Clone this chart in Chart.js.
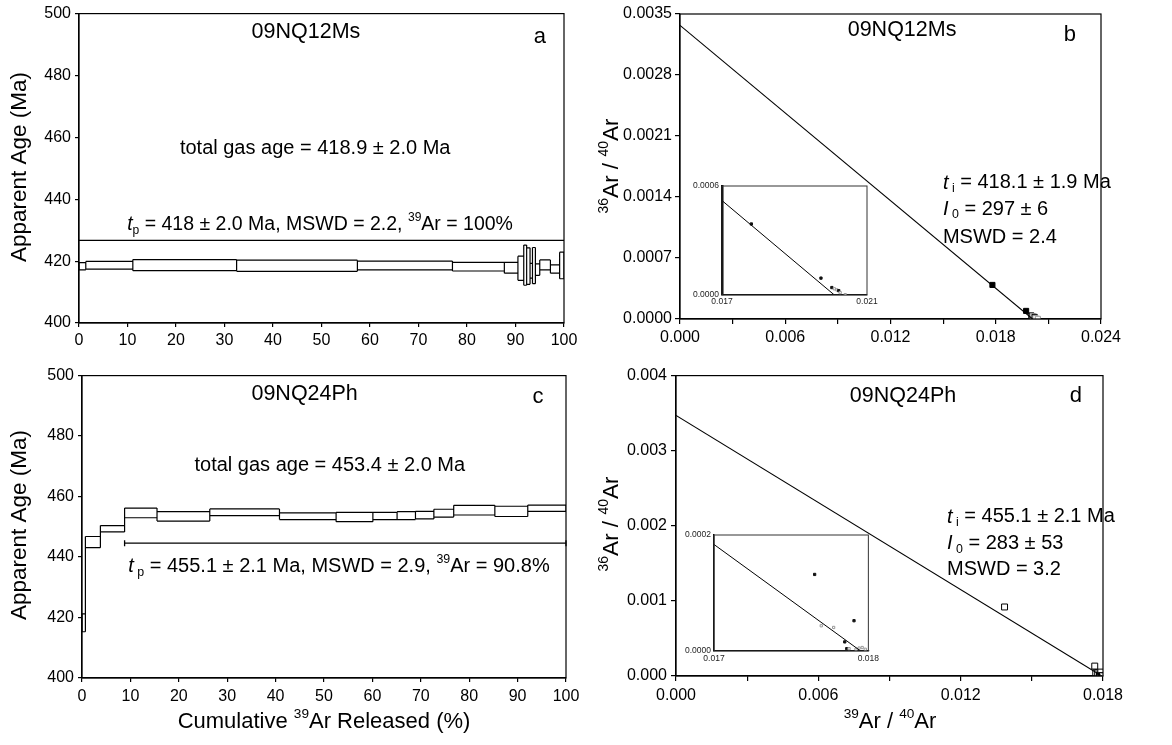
<!DOCTYPE html>
<html>
<head>
<meta charset="utf-8">
<title>09NQ12Ms / 09NQ24Ph Ar-Ar</title>
<script src="https://cdn.jsdelivr.net/npm/chart.js@4.4.1/dist/chart.umd.min.js"></script>
<style>
  html, body { margin: 0; padding: 0; background: #fff; }
  #wrap { position: relative; width: 1172px; height: 745px; overflow: hidden; }
  #wrap canvas { position: absolute; }
</style>
</head>
<body>
<div id="wrap">
  <canvas id="chartA" width="586" height="362" style="left:0;top:0"></canvas>
  <canvas id="chartB" width="586" height="362" style="left:586px;top:0"></canvas>
  <canvas id="chartC" width="586" height="383" style="left:0;top:362px"></canvas>
  <canvas id="chartD" width="586" height="383" style="left:586px;top:362px"></canvas>
  <canvas id="insetB" width="196" height="136" style="left:686px;top:176px"></canvas>
  <canvas id="insetD" width="204" height="145" style="left:678px;top:525px"></canvas>
</div>
<script>
// ---- data ----

// a: 09NQ12Ms age spectrum (cumulative 39Ar %, step age bounds in Ma)
var cumA = [0, 1.4, 11.1, 32.5, 57.4, 77.0, 87.7, 90.5, 91.7, 92.3, 93.0, 93.5, 94.1, 95.0, 97.2, 99.1, 100];
var ageHiA = [419.5, 419.9, 420.5, 420.3, 420.0, 419.6, 419.6, 421.6, 425.2, 424.3, 419.3, 424.4, 419.1, 420.4, 418.8, 422.9];
var ageLoA = [417.2, 417.4, 416.9, 416.7, 417.2, 416.8, 416.1, 413.8, 412.2, 412.5, 414.5, 412.7, 415.4, 417.2, 416.1, 414.3];
var plateauXA = [0, 100];
var plateauAgeA = 426.7;

// c: 09NQ24Ph age spectrum
var cumC = [0, 0.7, 3.8, 8.8, 15.5, 26.4, 40.8, 52.5, 60.1, 65.1, 68.9, 72.7, 76.8, 85.3, 92.1, 100];
var ageHiC = [421.2, 446.8, 450.4, 456.2, 455.0, 455.9, 454.6, 454.8, 454.8, 455.0, 455.1, 455.8, 457.1, 456.8, 457.2];
var ageLoC = [415.3, 443.1, 448.3, 453.0, 451.9, 453.7, 452.4, 451.7, 452.4, 452.4, 452.6, 453.2, 453.9, 453.4, 455.1];
var plateauXC = [8.8, 100];
var plateauAgeC = 444.6;

// b: 09NQ12Ms inverse isochron (39Ar/40Ar, 36Ar/40Ar)
var isoXB = [0.01781, 0.01973, 0.02003, 0.02010, 0.02017, 0.02022, 0.02026, 0.02040];
var isoYB = [0.000391, 0.000093, 0.000041, 0.000034, 0.000028, 0.000024, 0.000013, 0.000002];
var lineXB = [0, 0.0201];
var lineYB = [0.00337, 0];

// d: 09NQ24Ph inverse isochron
var isoXD = [0.01385, 0.017652, 0.017695, 0.017775, 0.017847, 0.01786, 0.017875, 0.017907, 0.01792, 0.01794, 0.01796, 0.01798];
var isoYD = [0.000919, 0.000132, 0.0000435, 0.0000406, 0.0000157, 0.000004, 0.000004, 0.0000522, 0.000003, 0.000005, 0.000006, 0.000003];
var lineXD = [0, 0.01795];
var lineYD = [0.00347, 0];

// tick values and labels
var pctTicks = [0, 10, 20, 30, 40, 50, 60, 70, 80, 90, 100];
var pctLabels = ["0", "10", "20", "30", "40", "50", "60", "70", "80", "90", "100"];
var ageTicks = [400, 420, 440, 460, 480, 500];
var ageLabels = ["400", "420", "440", "460", "480", "500"];
var xTicksB = [0, 0.003, 0.006, 0.009, 0.012, 0.015, 0.018, 0.021, 0.024];
var xLabelsB = ["0.000", "", "0.006", "", "0.012", "", "0.018", "", "0.024"];
var yTicksB = [0, 0.0007, 0.0014, 0.0021, 0.0028, 0.0035];
var yLabelsB = ["0.0000", "0.0007", "0.0014", "0.0021", "0.0028", "0.0035"];
var xTicksD = [0, 0.003, 0.006, 0.009, 0.012, 0.015, 0.018];
var xLabelsD = ["0.000", "", "0.006", "", "0.012", "", "0.018"];
var yTicksD = [0, 0.001, 0.002, 0.003, 0.004];
var yLabelsD = ["0.000", "0.001", "0.002", "0.003", "0.004"];
var insetXB = [0.017, 0.021], insetXLabelsB = ["0.017", "0.021"];
var insetYB = [0, 0.0006], insetYLabelsB = ["0.0000", "0.0006"];
var insetXD = [0.017, 0.018], insetXLabelsD = ["0.017", "0.018"];
var insetYD = [0, 0.0002], insetYLabelsD = ["0.0000", "0.0002"];

// marker styles (1 = solid square)
var solidB = [1, 1, 1, 0, 0, 1, 0, 0];
var solidD = [0, 0, 0, 0, 0, 1, 0, 0, 0, 0, 0, 0];
var solidInsetD = [1, 1, 0, 0, 1, 1, 0, 1, 0, 0, 0, 0];

// ---- drawing helpers ----
var FONT = "'Liberation Sans', Arial, Helvetica, sans-serif";
Chart.defaults.font.family = FONT;
Chart.defaults.color = "#000";

function richFont(style, size) {
  var s = (style === "sup" || style === "sub") ? size * 0.62 : size;
  return (style === "i" ? "italic " : "") + s + "px " + FONT;
}

// parts: [[text, style]] where style is "", "i", "sup" or "sub"
function drawRich(ctx, parts, x, y, size, align, rot) {
  var w = 0;
  parts.forEach(function (p) {
    ctx.font = richFont(p[1], size);
    w += ctx.measureText(p[0]).width;
  });
  ctx.save();
  ctx.translate(x, y);
  if (rot) ctx.rotate(rot);
  ctx.textAlign = "left";
  ctx.textBaseline = "middle";
  ctx.fillStyle = "#000";
  var cx = align === "left" ? 0 : -w / 2;
  parts.forEach(function (p) {
    ctx.font = richFont(p[1], size);
    var dy = p[1] === "sup" ? -size * 0.36 : (p[1] === "sub" ? size * 0.3 : 0);
    ctx.fillText(p[0], cx, dy);
    cx += ctx.measureText(p[0]).width;
  });
  ctx.restore();
}

Chart.register({
  id: "annot",
  beforeDraw: function (chart, args, o) {
    if (!o.whiteBg) return;
    var ca = chart.chartArea, ctx = chart.ctx;
    ctx.save();
    ctx.fillStyle = "#fff";
    ctx.fillRect(ca.left, ca.top, ca.right - ca.left, ca.bottom - ca.top);
    ctx.restore();
  },
  afterDraw: function (chart, args, o) {
    var ctx = chart.ctx, ca = chart.chartArea;
    ctx.save();
    ctx.strokeStyle = o.frameColor || "#000";
    ctx.lineWidth = o.frameWidth || 1.2;
    ctx.strokeRect(ca.left, ca.top, ca.right - ca.left, ca.bottom - ca.top);
    (o.texts || []).forEach(function (t) {
      var x = t.px !== undefined ? t.px : chart.scales.x.getPixelForValue(t.x);
      var y = t.py !== undefined ? t.py : chart.scales.y.getPixelForValue(t.y);
      drawRich(ctx, t.parts, x, y, t.size, t.align || "center", t.rot || 0);
    });
    ctx.restore();
  }
});

function axis(o) {
  return {
    type: "linear",
    min: o.min,
    max: o.max,
    afterBuildTicks: function (s) {
      s.ticks = o.ticks.map(function (v) { return { value: v }; });
    },
    afterFit: function (s) {
      if (o.isY) s.width = o.size; else s.height = o.size;
    },
    ticks: {
      autoSkip: false,
      maxRotation: 0,
      minRotation: 0,
      padding: o.pad,
      color: o.color || "#000",
      font: { size: o.font },
      callback: function (v, i) { return o.labels[i]; }
    },
    grid: {
      drawOnChartArea: false,
      drawTicks: o.tick > 0,
      tickLength: o.tick || 0,
      color: "#000",
      lineWidth: 1.2
    },
    border: { display: true, color: o.borderColor || "#000", width: o.border || 1.2 }
  };
}

function spectrumPoints(cum, hi, lo) {
  var pts = [], n = hi.length, i, j;
  for (i = 0; i < n; i++) {
    pts.push({ x: cum[i], y: hi[i] }, { x: cum[i + 1], y: hi[i] }, { x: cum[i + 1], y: null });
    pts.push({ x: cum[i], y: lo[i] }, { x: cum[i + 1], y: lo[i] }, { x: cum[i + 1], y: null });
  }
  for (j = 0; j <= n; j++) {
    var a = Math.max(0, j - 1), b = Math.min(n - 1, j);
    pts.push({ x: cum[j], y: Math.min(lo[a], lo[b]) }, { x: cum[j], y: Math.max(hi[a], hi[b]) }, { x: cum[j], y: null });
  }
  return pts;
}

function xy(xs, ys) {
  return xs.map(function (x, i) { return { x: x, y: ys[i] }; });
}

function lineSet(data, width) {
  return { data: data, showLine: true, borderColor: "#000", borderWidth: width || 1.2, pointRadius: 0, fill: false, spanGaps: false };
}

function pointSet(data, solid, r, solidColor, openColor, openFill) {
  return {
    data: data,
    showLine: false,
    pointStyle: "rect",
    pointRadius: r,
    pointBorderWidth: 1,
    pointBackgroundColor: solid.map(function (s) { return s ? solidColor : openFill; }),
    pointBorderColor: solid.map(function (s) { return s ? solidColor : openColor; })
  };
}

function baseOptions(padding, scales, annot) {
  return {
    responsive: false,
    animation: false,
    devicePixelRatio: 1,
    events: [],
    layout: { padding: padding, autoPadding: false },
    plugins: { legend: { display: false }, tooltip: { enabled: false }, annot: annot },
    scales: scales
  };
}

var ROT = -Math.PI / 2;

// ---- a ----
new Chart(document.getElementById("chartA"), {
  type: "scatter",
  data: {
    datasets: [
      lineSet(spectrumPoints(cumA, ageHiA, ageLoA), 1.2),
      lineSet(xy(plateauXA, [plateauAgeA, plateauAgeA]), 1.3)
    ]
  },
  options: baseOptions(
    { top: 11, right: 22, bottom: 0, left: 0 },
    {
      x: axis({ min: 0, max: 100, ticks: pctTicks, labels: pctLabels, size: 39, pad: 4, tick: 4, font: 16 }),
      y: axis({ isY: true, min: 400, max: 500, ticks: ageTicks, labels: ageLabels, size: 79, pad: 4, tick: 4, font: 16 })
    },
    {
      texts: [
        { parts: [["09NQ12Ms", ""]], x: 46.8, y: 493.9, size: 21.5 },
        { parts: [["a", ""]], x: 95, y: 492.3, size: 22 },
        { parts: [["total gas age = 418.9 ± 2.0 Ma", ""]], x: 48.7, y: 456.4, size: 20 },
        { parts: [["t", "i"], ["p", "sub"], [" = 418 ± 2.0 Ma, MSWD = 2.2, ", ""], ["39", "sup"], ["Ar = 100%", ""]], x: 49.7, y: 431.7, size: 19.5 },
        { parts: [["Apparent Age (Ma)", ""]], px: 20, py: 167, size: 22.5, rot: ROT }
      ]
    }
  )
});

// ---- b ----
new Chart(document.getElementById("chartB"), {
  type: "scatter",
  data: {
    datasets: [
      lineSet(xy(lineXB, lineYB), 1.1),
      pointSet(xy(isoXB, isoYB), solidB, 3.6, "#000", "#999", "#fff")
    ]
  },
  options: baseOptions(
    { top: 14, right: 71, bottom: 0, left: 0 },
    {
      x: axis({ min: 0, max: 0.024, ticks: xTicksB, labels: xLabelsB, size: 43, pad: 4, tick: 5, font: 16 }),
      y: axis({ isY: true, min: 0, max: 0.0035, ticks: yTicksB, labels: yLabelsB, size: 94, pad: 3, tick: 5, font: 16 })
    },
    {
      texts: [
        { parts: [["09NQ12Ms", ""]], x: 0.01266, y: 0.003316, size: 21.5 },
        { parts: [["b", ""]], x: 0.02223, y: 0.00326, size: 22 },
        { parts: [["t", "i"], [" i", "sub"], [" = 418.1 ± 1.9 Ma", ""]], x: 0.01499, y: 0.001561, size: 20, align: "left" },
        { parts: [["I", "i"], [" 0", "sub"], [" = 297 ± 6", ""]], x: 0.01499, y: 0.001262, size: 20, align: "left" },
        { parts: [["MSWD = 2.4", ""]], x: 0.01499, y: 0.000941, size: 20, align: "left" },
        { parts: [["36", "sup"], ["Ar / ", ""], ["40", "sup"], ["Ar", ""]], px: 26, py: 166, size: 22.5, rot: ROT }
      ]
    }
  )
});

// ---- c ----
new Chart(document.getElementById("chartC"), {
  type: "scatter",
  data: {
    datasets: [
      lineSet(spectrumPoints(cumC, ageHiC, ageLoC), 1.2),
      {
        data: xy(plateauXC, [plateauAgeC, plateauAgeC]),
        showLine: true, borderColor: "#000", borderWidth: 1.3,
        pointStyle: "line", rotation: 90, pointRadius: 3, pointBorderWidth: 1.3,
        pointBorderColor: "#000", clip: 4
      }
    ]
  },
  options: baseOptions(
    { top: 10, right: 20, bottom: 0, left: 0 },
    {
      x: axis({ min: 0, max: 100, ticks: pctTicks, labels: pctLabels, size: 67, pad: 5, tick: 4, font: 16 }),
      y: axis({ isY: true, min: 400, max: 500, ticks: ageTicks, labels: ageLabels, size: 82, pad: 4, tick: 4, font: 16 })
    },
    {
      texts: [
        { parts: [["09NQ24Ph", ""]], x: 46, y: 493.8, size: 21.5 },
        { parts: [["c", ""]], x: 94.2, y: 493.1, size: 22 },
        { parts: [["total gas age = 453.4 ± 2.0 Ma", ""]], x: 51.2, y: 470.3, size: 20 },
        { parts: [["t", "i"], [" p", "sub"], [" = 455.1 ± 2.1 Ma, MSWD = 2.9, ", ""], ["39", "sup"], ["Ar = 90.8%", ""]], x: 53.1, y: 436.9, size: 20 },
        { parts: [["Apparent Age (Ma)", ""]], px: 20, py: 163, size: 22.5, rot: ROT },
        { parts: [["Cumulative ", ""], ["39", "sup"], ["Ar Released (%)", ""]], px: 324, py: 360, size: 22 }
      ]
    }
  )
});

// ---- d ----
new Chart(document.getElementById("chartD"), {
  type: "scatter",
  data: {
    datasets: [
      lineSet(xy(lineXD, lineYD), 1.1),
      pointSet(xy(isoXD, isoYD), solidD, 4.2, "#000", "#000", "#fff")
    ]
  },
  options: baseOptions(
    { top: 10, right: 69, bottom: 0, left: 0 },
    {
      x: axis({ min: 0, max: 0.018, ticks: xTicksD, labels: xLabelsD, size: 69, pad: 5, tick: 5, font: 16 }),
      y: axis({ isY: true, min: 0, max: 0.004, ticks: yTicksD, labels: yLabelsD, size: 90, pad: 4, tick: 5, font: 16 })
    },
    {
      texts: [
        { parts: [["09NQ24Ph", ""]], x: 0.00957, y: 0.003732, size: 21.5 },
        { parts: [["d", ""]], x: 0.01686, y: 0.003724, size: 22 },
        { parts: [["t", "i"], [" i", "sub"], [" = 455.1 ± 2.1 Ma", ""]], x: 0.011424, y: 0.002118, size: 20, align: "left" },
        { parts: [["I", "i"], [" 0", "sub"], [" = 283 ± 53", ""]], x: 0.011424, y: 0.001763, size: 20, align: "left" },
        { parts: [["MSWD = 3.2", ""]], x: 0.011424, y: 0.001421, size: 20, align: "left" },
        { parts: [["36", "sup"], ["Ar / ", ""], ["40", "sup"], ["Ar", ""]], px: 26, py: 162, size: 22.5, rot: ROT },
        { parts: [["39", "sup"], ["Ar / ", ""], ["40", "sup"], ["Ar", ""]], px: 304, py: 360, size: 22 }
      ]
    }
  )
});

// ---- insets ----
new Chart(document.getElementById("insetB"), {
  type: "scatter",
  data: {
    datasets: [
      lineSet(xy(lineXB, lineYB), 1),
      pointSet(xy(isoXB, isoYB), solidB, 1.6, "#111", "#999", "#fff")
    ]
  },
  options: baseOptions(
    { top: 10, right: 15, bottom: 0, left: 0 },
    {
      x: axis({ min: 0.017, max: 0.021, ticks: insetXB, labels: insetXLabelsB, size: 17, pad: 2, tick: 0, font: 8.5, color: "#222" }),
      y: axis({ isY: true, min: 0, max: 0.0006, ticks: insetYB, labels: insetYLabelsB, size: 36, pad: 3, tick: 0, font: 8.5, color: "#222", border: 2.5 })
    },
    { whiteBg: true, frameColor: "#333", frameWidth: 1 }
  )
});

new Chart(document.getElementById("insetD"), {
  type: "scatter",
  data: {
    datasets: [
      lineSet(xy(lineXD, lineYD), 1),
      pointSet(xy(isoXD, isoYD), solidInsetD, 1.6, "#111", "#999", "#fff")
    ]
  },
  options: baseOptions(
    { top: 10, right: 13, bottom: 0, left: 0 },
    {
      x: axis({ min: 0.017, max: 0.018, ticks: insetXD, labels: insetXLabelsD, size: 19, pad: 3, tick: 0, font: 8.5, color: "#222" }),
      y: axis({ isY: true, min: 0, max: 0.0002, ticks: insetYD, labels: insetYLabelsD, size: 36, pad: 3, tick: 0, font: 8.5, color: "#222", border: 1.5 })
    },
    { whiteBg: true, frameColor: "#333", frameWidth: 1 }
  )
});
</script>
</body>
</html>
